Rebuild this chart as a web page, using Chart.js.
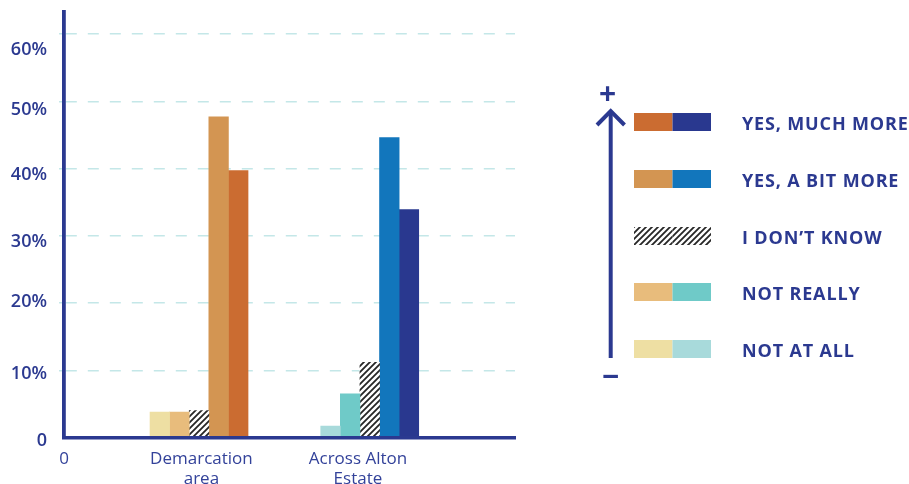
<!DOCTYPE html>
<html>
<head>
<meta charset="utf-8">
<script src="https://cdn.jsdelivr.net/npm/chart.js@4.4.1/dist/chart.umd.min.js"></script>
<style>
body { margin: 0; background: #fff; width: 909px; height: 484px; overflow: hidden; position: relative; font-family: 'Open Sans', sans-serif; }
#chartBox { position: absolute; left: 0; top: 0; width: 530px; height: 484px; }
.row { position: absolute; left: 634px; height: 18px; }
.sw { position: absolute; top: 0; height: 18px; }
.lbl { position: absolute; left: 108px; top: -1px; white-space: nowrap; color: #2b3990; font-weight: 700; font-size: 18px; letter-spacing: 0.85px; line-height: 22px; }
.sign { position: absolute; color: #2b3990; font-weight: 700; }
</style>
</head>
<body>
<div id="chartBox"><canvas id="chart" width="530" height="484"></canvas></div>
<svg style="position:absolute;left:0;top:0" width="909" height="484">
  <line x1="610.7" y1="111" x2="610.7" y2="358" stroke="#2b3990" stroke-width="4"/>
  <polyline points="597,125 610.7,111 624.5,125" fill="none" stroke="#2b3990" stroke-width="4"/>
</svg>
<div class="sign" style="left:599px;top:76px;font-size:30px;line-height:34px">+</div>
<div class="sign" style="left:602px;top:359px;font-size:30px;line-height:34px">−</div>
<div id="legend"></div>
<script>
// survey answers, from most negative to most positive
var responses = ['NOT AT ALL', 'NOT REALLY', 'I DON\u2019T KNOW', 'YES, A BIT MORE', 'YES, MUCH MORE'];
var categories = [['Demarcation', 'area'], ['Across Alton', 'Estate']];
var demarcation = [3.8, 3.8, 4.0, 47.7, 39.7];
var acrossAlton = [1.7, 6.5, 11.2, 44.6, 33.9];
var yTicks = [0, 10, 20, 30, 40, 50, 60];

var navy = '#2b3990';

function makeHatch() {
	var c = document.createElement('canvas');
	c.width = 6; c.height = 6;
	var g = c.getContext('2d');
	g.fillStyle = '#fff';
	g.fillRect(0, 0, 6, 6);
	g.strokeStyle = '#262626';
	g.lineWidth = 1.8;
	g.beginPath();
	g.moveTo(-1, 7); g.lineTo(7, -1);
	g.moveTo(-1, 1); g.lineTo(1, -1);
	g.moveTo(5, 7); g.lineTo(7, 5);
	g.stroke();
	return g.createPattern(c, 'repeat');
}
var hatch = makeHatch();
var demColors = ['#eedfa3', '#e8bc7c', hatch, '#d39552', '#cb6c31'];
var altonColors = ['#a8dadb', '#6fcac8', hatch, '#1276bc', '#29388f'];

// x layout: axis runs 0..xMax, groups sit at groupX, labels at labelX
var xMax = 2.642;
var groupX = [0.791, 1.791];
var labelX = [0.805, 1.722];
// the printed tick labels sit a little off their grid lines
var yLabelShift = [-0.5, -0.5, 0.2, -0.9, -0.9, -1.3, -2.3];

var datasets = responses.map(function (r, i) {
	return {
		label: r,
		yAxisID: 'y',
		data: [{x: groupX[0], y: demarcation[i]}, {x: groupX[1], y: acrossAlton[i]}],
		backgroundColor: [demColors[i], altonColors[i]],
		borderWidth: 0,
		barThickness: 19.6
	};
});

Chart.defaults.font.family = "'Open Sans', sans-serif";

new Chart(document.getElementById('chart'), {
	type: 'bar',
	data: {datasets: datasets},
	options: {
		responsive: false,
		animation: false,
		layout: {padding: {top: 12, right: 15, left: 0, bottom: 0}},
		plugins: {legend: {display: false}, tooltip: {enabled: false}},
		scales: {
			x: {
				type: 'linear',
				min: 0,
				max: xMax,
				offset: false,
				afterFit: function (s) {
					s.height = 46.5;
					s.paddingLeft = 0; s.paddingRight = 0;
				},
				afterBuildTicks: function (s) {
					s.ticks = [{value: 0}].concat(labelX.map(function (v) { return {value: v}; }));
				},
				grid: {display: false, offset: false},
				border: {color: navy, width: 3.5, z: 1},
				ticks: {
					autoSkip: false,
					maxRotation: 0,
					padding: 3,
					color: '#33429a',
					font: {size: 17, lineHeight: 1.2},
					callback: function (v, i) { return i === 0 ? '0' : categories[i - 1]; }
				}
			},
			y: {
				position: 'left',
				weight: 0,
				min: 0,
				max: 63.3,
				afterFit: function (s) {
					s.width = 0;
					s.paddingTop = 0; s.paddingBottom = 0;
				},
				afterBuildTicks: function (s) {
					s.ticks = yTicks.map(function (v) { return {value: v}; });
				},
				grid: {
					color: function (c) { return c.tick && c.tick.value === 0 ? 'rgba(0,0,0,0)' : '#c4e7e8'; },
					lineWidth: 1.5,
					tickLength: 5
				},
				border: {color: navy, width: 3.8, z: 1, dash: [11, 11]},
				ticks: {display: false}
			},
			yLabels: {
				position: 'left',
				weight: 1,
				min: 0,
				max: 63.3,
				afterFit: function (s) {
					s.width = 64;
					s.paddingTop = 0; s.paddingBottom = 0;
				},
				afterBuildTicks: function (s) {
					s.ticks = yTicks.map(function (v, i) { return {value: v + yLabelShift[i]}; });
				},
				grid: {display: false},
				border: {display: false},
				ticks: {
					padding: 9,
					color: navy,
					font: {size: 18, weight: '600'},
					callback: function (v, i) { return yTicks[i] === 0 ? '0' : yTicks[i] + '%'; }
				}
			}
		}
	}
});

// legend, top row = most positive answer
var legend = document.getElementById('legend');
for (var k = 0; k < responses.length; k++) {
	var i = responses.length - 1 - k;
	var row = document.createElement('div');
	row.className = 'row';
	row.style.top = (113 + k * 56.8) + 'px';
	var sw = document.createElement('canvas');
	sw.className = 'sw';
	sw.width = 77; sw.height = 18;
	var g = sw.getContext('2d');
	g.fillStyle = demColors[i]; g.fillRect(0, 0, 38.5, 18);
	g.fillStyle = altonColors[i]; g.fillRect(38.5, 0, 38.5, 18);
	row.appendChild(sw);
	var lbl = document.createElement('div');
	lbl.className = 'lbl';
	lbl.textContent = responses[i];
	row.appendChild(lbl);
	legend.appendChild(row);
}
</script>
</body>
</html>
